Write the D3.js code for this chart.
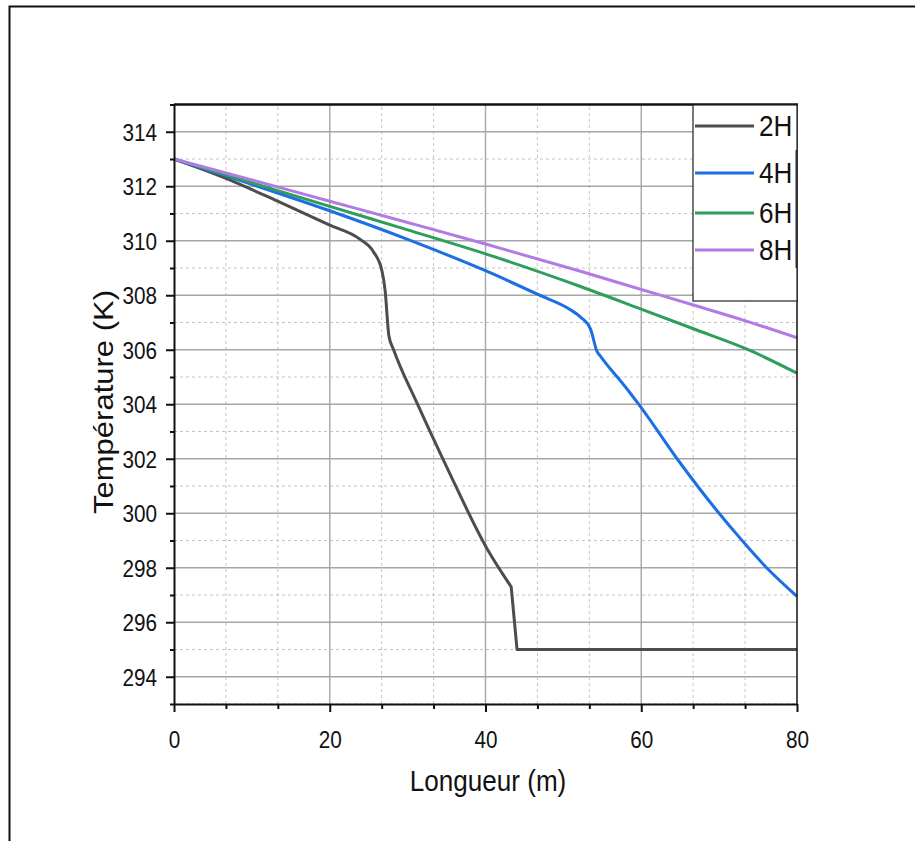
<!DOCTYPE html>
<html>
<head>
<meta charset="utf-8">
<script src="https://cdn.jsdelivr.net/npm/d3@7"></script>
<style>
  body { margin: 0; background: #fff; }
  text { font-family: "Liberation Sans", Arial, sans-serif; fill: #111; }
</style>
</head>
<body>
<svg id="chart"></svg>
<script>
// series: length (m) and temperature (K)
const seriesNames = ["2H", "4H", "6H", "8H"];
const seriesColors = ["#4d4d4d", "#1c6fe3", "#2f9e5c", "#b17be4"];

const len2H = [0, 6.6, 13.3, 20, 23.9, 25.6, 26.7, 27.1, 27.6, 28.2, 31.2, 35.1, 40.2, 43.3, 44.05, 80];
const temp2H = [313, 312.3, 311.45, 310.57, 310.05, 309.6, 308.9, 308.2, 306.5, 306.0, 304.05, 301.65, 298.7, 297.3, 295.0, 295.0];

const len4H = [0, 10, 20, 30, 40, 46.8, 50.9, 52.2, 53.5, 54.3, 54.8, 58.2, 59.9, 64.6, 69.7, 73.1, 76.1, 80];
const temp4H = [313, 312.07, 311.1, 310.05, 308.9, 308.02, 307.47, 307.2, 306.75, 305.95, 305.75, 304.55, 303.91, 302.0, 300.1, 298.95, 298.0, 296.95];

const len6H = [0, 10, 20, 30, 40, 52.2, 59.9, 66.7, 73.6, 80];
const temp6H = [313, 312.13, 311.26, 310.4, 309.52, 308.32, 307.5, 306.77, 306.02, 305.14];

const len8H = [0, 10, 20, 30, 40, 52.2, 59.9, 66.7, 73.6, 80];
const temp8H = [313, 312.23, 311.45, 310.67, 309.88, 308.88, 308.22, 307.64, 307.04, 306.44];

const xTickValues = [0, 20, 40, 60, 80];
const xMinorValues = [6.667, 13.333, 26.667, 33.333, 46.667, 53.333, 66.667, 73.333];
const yTickValues = [294, 296, 298, 300, 302, 304, 306, 308, 310, 312, 314];
const yMinorValues = [293, 295, 297, 299, 301, 303, 305, 307, 309, 311, 313, 315];

const width = 915, height = 841;
const svg = d3.select("#chart").attr("width", width).attr("height", height);
svg.append("rect").attr("width", width).attr("height", height).attr("fill", "#fff");

const x = d3.scaleLinear().domain([0, 80]).range([174, 797]);
const y = d3.scaleLinear().domain([293, 315]).range([704, 104.5]);

// linearTail: trailing points joined by straight segments (sharp corners)
const series = [
    { name: seriesNames[0], color: seriesColors[0], xs: len2H, ts: temp2H, linearTail: 2 },
    { name: seriesNames[1], color: seriesColors[1], xs: len4H, ts: temp4H, linearTail: 0 },
    { name: seriesNames[2], color: seriesColors[2], xs: len6H, ts: temp6H, linearTail: 0 },
    { name: seriesNames[3], color: seriesColors[3], xs: len8H, ts: temp8H, linearTail: 0 }
];

// outer frame (left and top only)
svg.append("path")
    .attr("d", "M9.5,841V6.5H915")
    .attr("fill", "none")
    .attr("stroke", "#111")
    .attr("stroke-width", 2);

// grid
const grid = svg.append("g");
grid.selectAll(".ymin").data(yMinorValues.filter(v => v < 315)).enter().append("line")
    .attr("x1", x(0)).attr("x2", x(80))
    .attr("y1", d => y(d)).attr("y2", d => y(d))
    .attr("stroke", "#c4c4c4").attr("stroke-width", 1).attr("stroke-dasharray", "3,3");
grid.selectAll(".xmin").data(xMinorValues).enter().append("line")
    .attr("x1", d => x(d)).attr("x2", d => x(d))
    .attr("y1", y(293)).attr("y2", y(315))
    .attr("stroke", "#c4c4c4").attr("stroke-width", 1).attr("stroke-dasharray", "3,3");
grid.selectAll(".ymaj").data(yTickValues).enter().append("line")
    .attr("x1", x(0)).attr("x2", x(80))
    .attr("y1", d => y(d)).attr("y2", d => y(d))
    .attr("stroke", "#a6a6a6").attr("stroke-width", 1.4);
grid.selectAll(".xmaj").data(xTickValues.slice(1, -1)).enter().append("line")
    .attr("x1", d => x(d)).attr("x2", d => x(d))
    .attr("y1", y(293)).attr("y2", y(315))
    .attr("stroke", "#a6a6a6").attr("stroke-width", 1.4);

// curves
const line = d3.line()
    .x(d => x(d[0]))
    .y(d => y(d[1]))
    .curve(d3.curveMonotoneX);

function curvePath(s) {
    const pts = s.xs.map((v, i) => [v, s.ts[i]]);
    const cut = pts.length - s.linearTail;
    const tail = pts.slice(cut).map(p => `L${x(p[0])},${y(p[1])}`).join("");
    return line(pts.slice(0, cut)) + tail;
}

svg.append("g").selectAll("path").data(series).enter().append("path")
    .attr("d", curvePath)
    .attr("fill", "none")
    .attr("stroke", s => s.color)
    .attr("stroke-width", 3)
    .attr("stroke-linejoin", "round");

// axes
const yAxis = svg.append("g").attr("transform", `translate(${x(0)},0)`)
    .call(d3.axisLeft(y).tickValues(yTickValues).tickSize(8).tickSizeOuter(0).tickFormat(d3.format("d")));
yAxis.select(".domain").attr("stroke", "#111").attr("stroke-width", 2);
yAxis.selectAll(".tick line").attr("stroke", "#111").attr("stroke-width", 2);
yAxis.selectAll(".tick text")
    .attr("font-size", 23)
    .attr("x", -19)
    .attr("dy", "0.36em")
    .attr("fill", "#111")
    .attr("transform", "scale(0.9,1)");
svg.append("g").attr("transform", `translate(${x(0)},0)`)
    .call(d3.axisLeft(y).tickValues(yMinorValues).tickSize(4).tickSizeOuter(0).tickFormat(""))
    .call(g => g.select(".domain").remove())
    .selectAll("line").attr("stroke", "#111").attr("stroke-width", 2);

const xAxis = svg.append("g").attr("transform", `translate(0,${y(293)})`)
    .call(d3.axisBottom(x).tickValues(xTickValues).tickSize(8).tickSizeOuter(0));
xAxis.select(".domain").attr("stroke", "#111").attr("stroke-width", 2);
xAxis.selectAll(".tick line").attr("stroke", "#111").attr("stroke-width", 2);
xAxis.selectAll(".tick text")
    .attr("font-size", 23)
    .attr("y", 44)
    .attr("dy", 0)
    .attr("fill", "#111")
    .attr("transform", "scale(0.9,1)");
svg.append("g").attr("transform", `translate(0,${y(293)})`)
    .call(d3.axisBottom(x).tickValues(xMinorValues).tickSize(5).tickSizeOuter(0).tickFormat(""))
    .call(g => g.select(".domain").remove())
    .selectAll("line").attr("stroke", "#111").attr("stroke-width", 2);

// top and right frame of the plot
svg.append("line").attr("x1", x(0)).attr("x2", x(80) + 1).attr("y1", y(315)).attr("y2", y(315))
    .attr("stroke", "#111").attr("stroke-width", 2.5);
svg.append("line").attr("x1", x(80)).attr("x2", x(80)).attr("y1", y(315)).attr("y2", y(293) + 1)
    .attr("stroke", "#111").attr("stroke-width", 1.5);

// axis titles
svg.append("text")
    .attr("transform", "translate(488,791) scale(0.9,1)")
    .attr("text-anchor", "middle")
    .attr("font-size", 29)
    .text("Longueur (m)");
svg.append("text")
    .attr("transform", "translate(113,402) scale(0.9,1) rotate(-90)")
    .attr("text-anchor", "middle")
    .attr("font-size", 31)
    .text("Température (K)");

// legend
const legendRowY = [126, 173, 213, 250];
const legend = svg.append("g");
legend.append("rect")
    .attr("x", 693).attr("y", 105).attr("width", 104).attr("height", 196)
    .attr("fill", "#fff").attr("stroke", "#222").attr("stroke-width", 1.2);
legend.append("line").attr("x1", 796.5).attr("x2", 796.5).attr("y1", 150).attr("y2", 268)
    .attr("stroke", "#333").attr("stroke-width", 2);
const rows = legend.selectAll(".row").data(series).enter().append("g")
    .attr("transform", (s, i) => `translate(0,${legendRowY[i]})`);
rows.append("line").attr("x1", 695).attr("x2", 754)
    .attr("stroke", s => s.color).attr("stroke-width", 3);
rows.append("text")
    .attr("transform", "translate(759,0) scale(0.9,1)")
    .attr("dy", "0.36em")
    .attr("font-size", 29)
    .text(s => s.name);
</script>
</body>
</html>
